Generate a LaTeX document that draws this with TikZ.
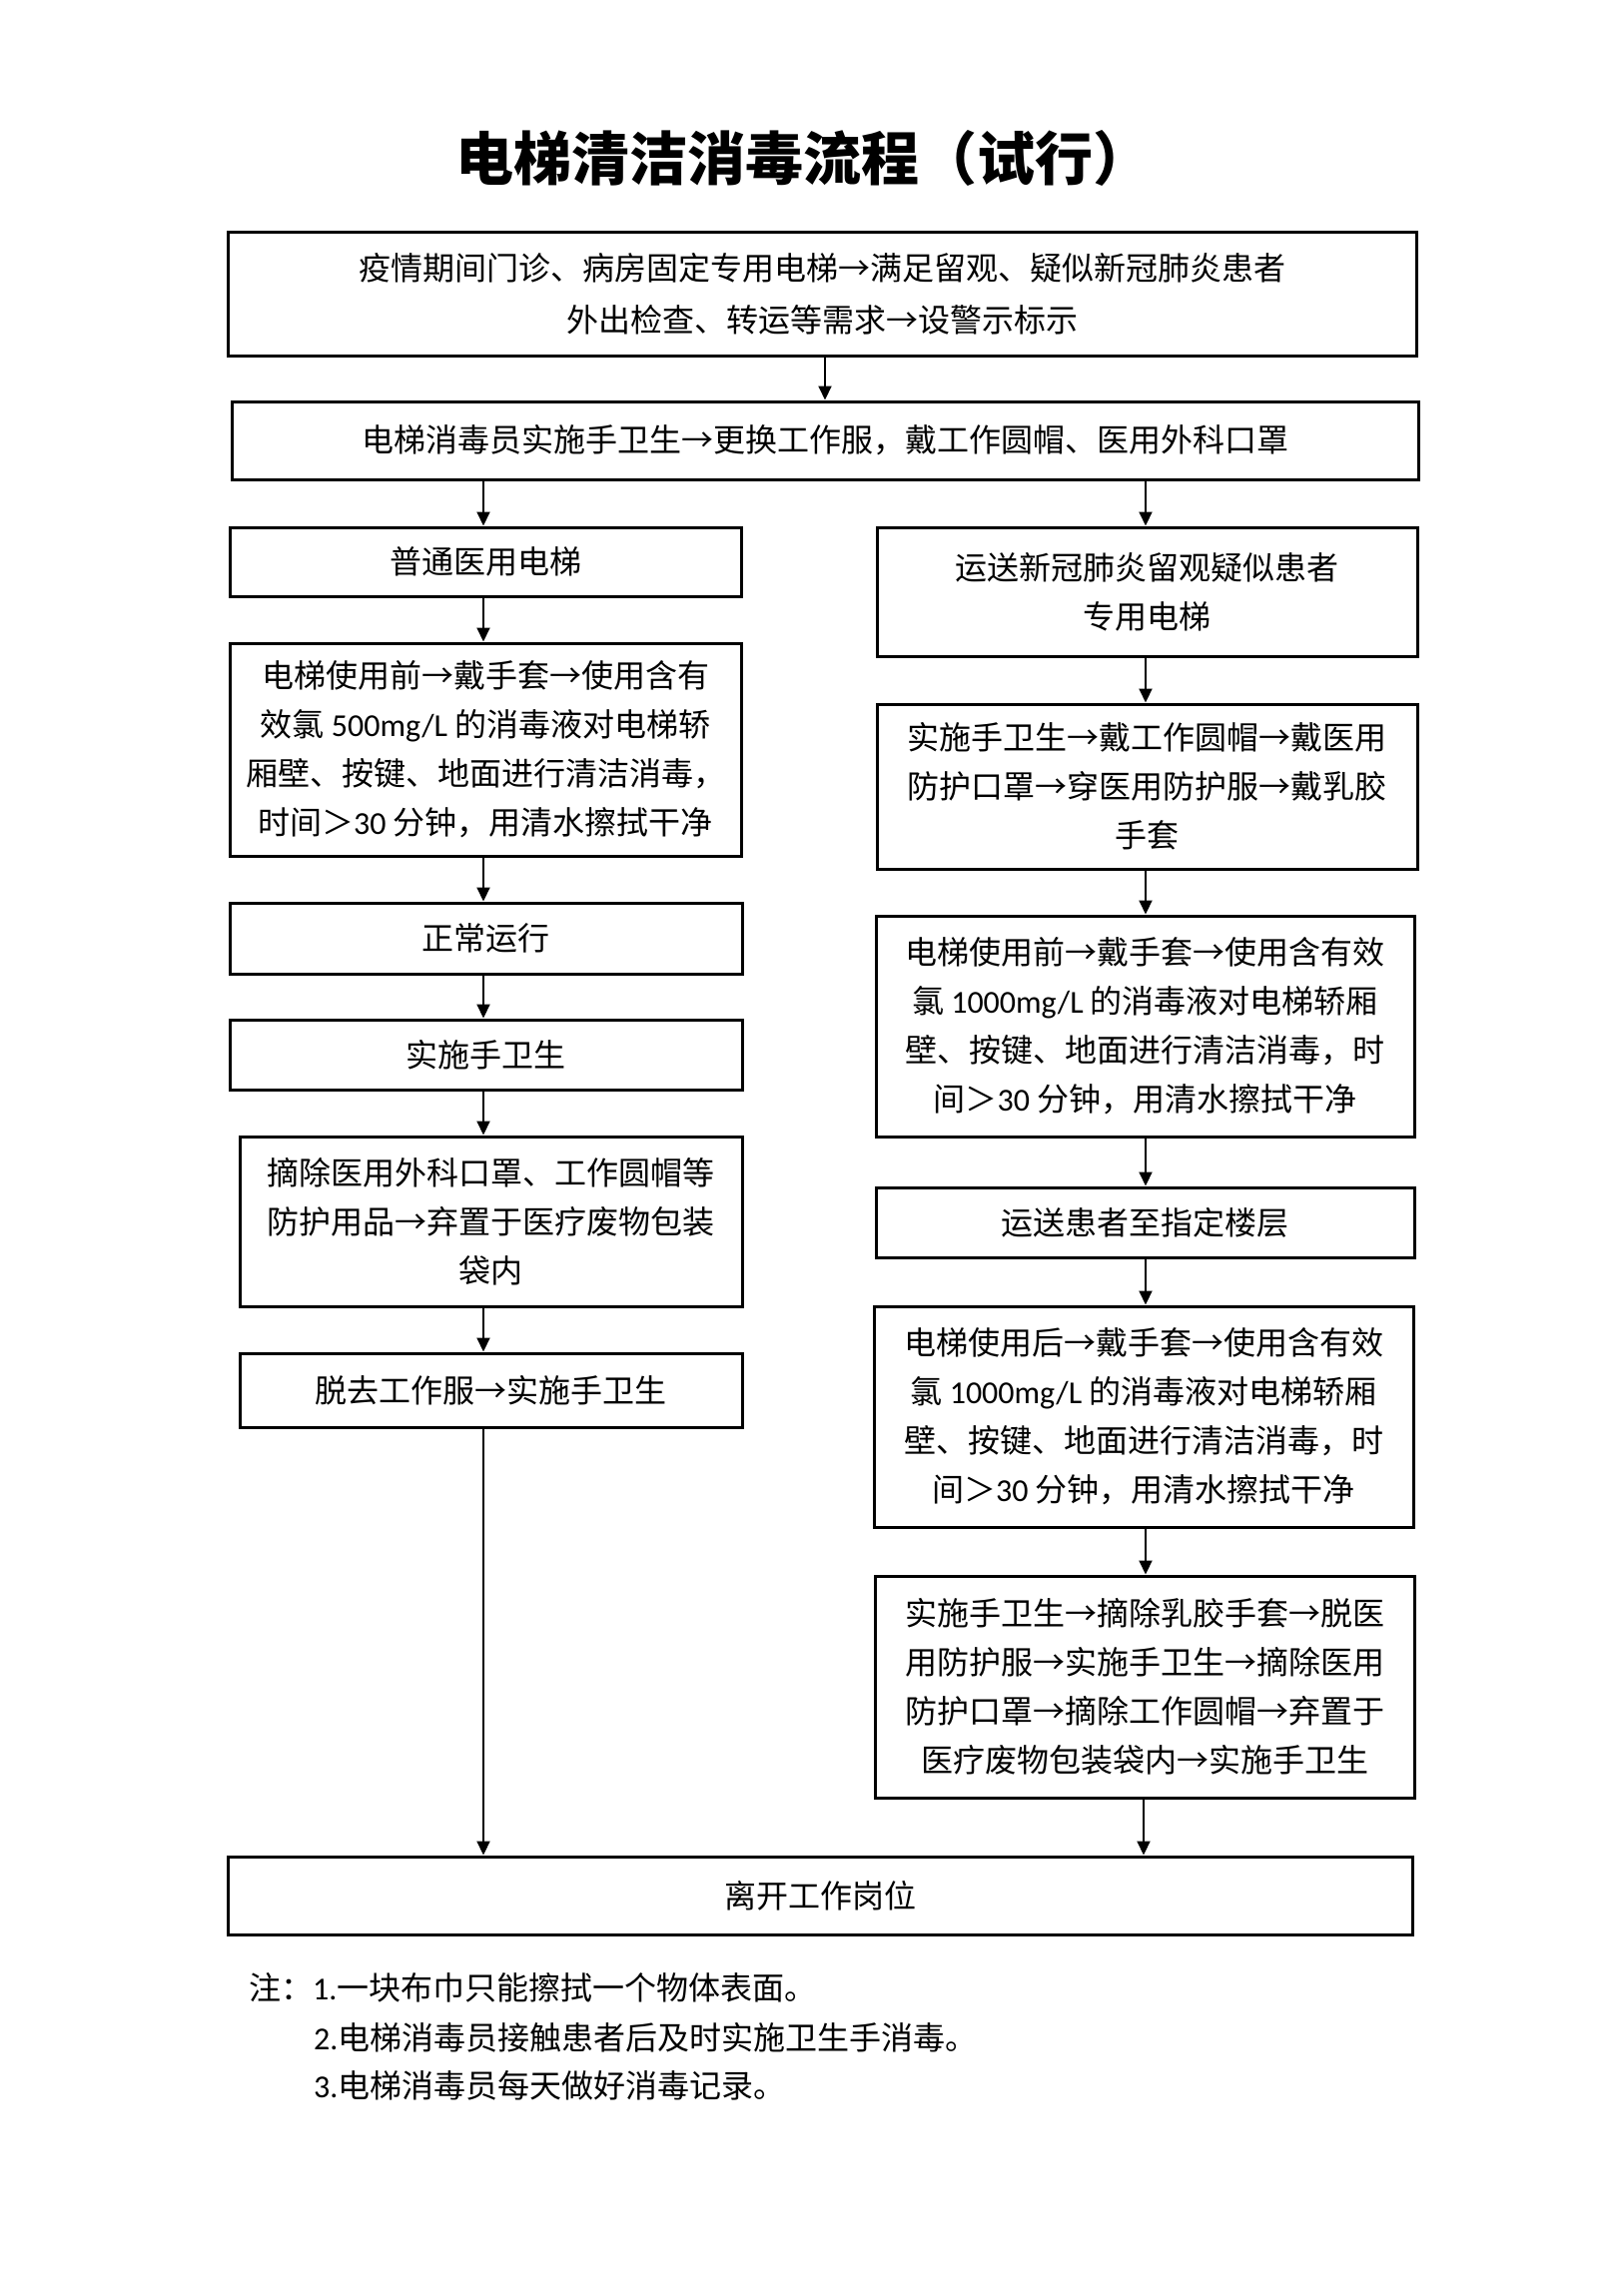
\documentclass[tikz,border=0pt]{standalone}
\usepackage{fontspec}
\setmainfont{Noto Sans CJK SC}
\newfontfamily\latfont{Carlito}
\newcommand\latn[1]{{\latfont #1}}
\usetikzlibrary{arrows.meta}
\tikzset{
  box/.style={draw, line width=3pt, inner sep=0pt, align=center, anchor=center,
              font=\fontsize{32}{49}\selectfont},
  arr/.style={line width=2pt, -{Triangle[length=14pt,width=13pt]}},
  note/.style={anchor=west, inner sep=0pt, font=\fontsize{32}{40}\selectfont},
}
\begin{document}
\begin{tikzpicture}[x=1pt,y=-1pt]
\fill[white] (0,0) rectangle (1625,2299);
\useasboundingbox (0,0) rectangle (1625,2299);

\node[inner sep=0pt, font=\fontsize{58}{64}\selectfont\bfseries] (title) at (804,158) {电梯清洁消毒流程（试行）};

\node[box, minimum width=1190pt, minimum height=124pt, font=\fontsize{32}{52}\selectfont] (top) at (823,294)
  {疫情期间门诊、病房固定专用电梯→满足留观、疑似新冠肺炎患者\\外出检查、转运等需求→设警示标示};
\node[box, minimum width=1188pt, minimum height=78pt] (b2) at (826,441)
  {电梯消毒员实施手卫生→更换工作服，戴工作圆帽、医用外科口罩};

% left column
\node[box, minimum width=512pt, minimum height=69pt] (L1) at (486,562.5) {普通医用电梯};
\node[box, minimum width=512pt, minimum height=213pt] (L2) at (486,750.5)
  {电梯使用前→戴手套→使用含有\\效氯 \latn{500mg/L} 的消毒液对电梯轿\\厢壁、按键、地面进行清洁消毒，\\时间＞\latn{30} 分钟，用清水擦拭干净};
\node[box, minimum width=513pt, minimum height=71pt] (L3) at (486.5,939.5) {正常运行};
\node[box, minimum width=513pt, minimum height=70pt] (L4) at (486.5,1056) {实施手卫生};
\node[box, minimum width=503pt, minimum height=170pt] (L5) at (491.5,1223)
  {摘除医用外科口罩、工作圆帽等\\防护用品→弃置于医疗废物包装\\袋内};
\node[box, minimum width=503pt, minimum height=74pt] (L6) at (491.5,1392) {脱去工作服→实施手卫生};

% right column
\node[box, minimum width=541pt, minimum height=129pt] (R1) at (1148.5,592.5)
  {运送新冠肺炎留观疑似患者\\专用电梯};
\node[box, minimum width=541pt, minimum height=165pt] (R2) at (1148.5,787.5)
  {实施手卫生→戴工作圆帽→戴医用\\防护口罩→穿医用防护服→戴乳胶\\手套};
\node[box, minimum width=539pt, minimum height=221pt] (R3) at (1146.5,1027.5)
  {电梯使用前→戴手套→使用含有效\\氯 \latn{1000mg/L} 的消毒液对电梯轿厢\\壁、按键、地面进行清洁消毒，时\\间＞\latn{30} 分钟，用清水擦拭干净};
\node[box, minimum width=539pt, minimum height=70pt] (R4) at (1146.5,1224) {运送患者至指定楼层};
\node[box, minimum width=540pt, minimum height=221pt] (R5) at (1145,1418.5)
  {电梯使用后→戴手套→使用含有效\\氯 \latn{1000mg/L} 的消毒液对电梯轿厢\\壁、按键、地面进行清洁消毒，时\\间＞\latn{30} 分钟，用清水擦拭干净};
\node[box, minimum width=540pt, minimum height=222pt] (R6) at (1146,1689)
  {实施手卫生→摘除乳胶手套→脱医\\用防护服→实施手卫生→摘除医用\\防护口罩→摘除工作圆帽→弃置于\\医疗废物包装袋内→实施手卫生};

\node[box, minimum width=1186pt, minimum height=78pt] (end) at (821,1898) {离开工作岗位};

% notes
\node[note] (n1) at (249,1990) {注：\latn{1.}一块布巾只能擦拭一个物体表面。};
\node[note] (n2) at (314,2040) {\latn{2.}电梯消毒员接触患者后及时实施卫生手消毒。};
\node[note] (n3) at (314,2088) {\latn{3.}电梯消毒员每天做好消毒记录。};

% column axes
\coordinate (mx) at (826,0);
\coordinate (lx) at (484,0);
\coordinate (rx) at (1147,0);
\coordinate (rxe) at (1145,0);

\draw[arr] (top.south -| mx) -- (b2.north -| mx);
\draw[arr] (b2.south -| lx) -- (L1.north -| lx);
\draw[arr] (b2.south -| rx) -- (R1.north -| rx);

\draw[arr] (L1.south -| lx) -- (L2.north -| lx);
\draw[arr] (L2.south -| lx) -- (L3.north -| lx);
\draw[arr] (L3.south -| lx) -- (L4.north -| lx);
\draw[arr] (L4.south -| lx) -- (L5.north -| lx);
\draw[arr] (L5.south -| lx) -- (L6.north -| lx);
\draw[arr] (L6.south -| lx) -- (end.north -| lx);

\draw[arr] (R1.south -| rx) -- (R2.north -| rx);
\draw[arr] (R2.south -| rx) -- (R3.north -| rx);
\draw[arr] (R3.south -| rx) -- (R4.north -| rx);
\draw[arr] (R4.south -| rx) -- (R5.north -| rx);
\draw[arr] (R5.south -| rx) -- (R6.north -| rx);
\draw[arr] (R6.south -| rxe) -- (end.north -| rxe);
\end{tikzpicture}
\end{document}
